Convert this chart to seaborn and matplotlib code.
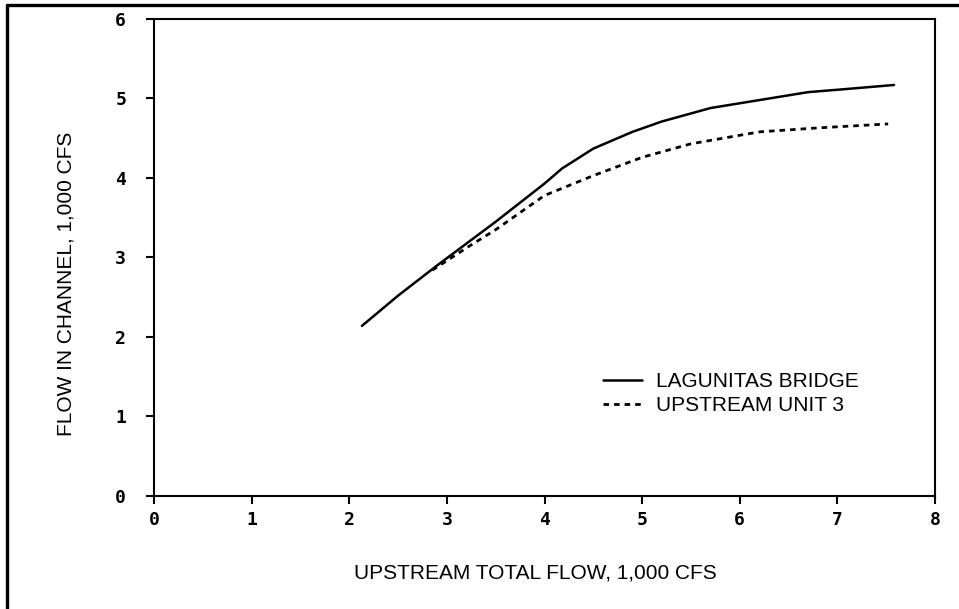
import matplotlib
matplotlib.use('Agg')
import matplotlib.pyplot as plt
from matplotlib.lines import Line2D
import seaborn as sns

# Lagunitas Bridge (solid)
bridge_x = [2.13, 2.5, 2.9, 3.5, 4.0, 4.18, 4.5, 4.9, 5.2, 5.7, 6.2, 6.7, 7.1, 7.58]
bridge_y = [2.14, 2.52, 2.90, 3.45, 3.93, 4.12, 4.37, 4.58, 4.71, 4.88, 4.98, 5.08, 5.12, 5.17]

# Upstream unit 3 (dashed)
unit3_x = [2.85, 3.2, 3.5, 4.0, 4.5, 5.0, 5.5, 6.2, 6.8, 7.52]
unit3_y = [2.84, 3.12, 3.35, 3.78, 4.03, 4.26, 4.43, 4.58, 4.63, 4.68]

x_ticks = [0, 1, 2, 3, 4, 5, 6, 7, 8]
y_ticks = [0, 1, 2, 3, 4, 5, 6]

sns.set_theme(style='ticks')
plt.rcParams['font.family'] = ['Liberation Sans', 'DejaVu Sans']
plt.rcParams['text.color'] = 'black'
plt.rcParams['axes.labelcolor'] = 'black'

fig = plt.figure(figsize=(9.59, 6.09), dpi=100)
ax = fig.add_axes([0.1606, 0.1856, 0.975 - 0.1606, 0.9688 - 0.1856])

sns.lineplot(x=bridge_x, y=bridge_y, ax=ax, color='black', linewidth=1.8,
             label='LAGUNITAS BRIDGE', sort=False)
sns.lineplot(x=unit3_x, y=unit3_y, ax=ax, color='black', linewidth=2.0,
             label='UPSTREAM UNIT 3', sort=False)
ax.lines[1].set_dashes([2.0, 1.8])

ax.set_xlim(0, 8)
ax.set_ylim(0, 6)
ax.set_xticks(x_ticks)
ax.set_yticks(y_ticks)
ax.set_xticklabels([str(t) for t in x_ticks], family='DejaVu Sans Mono', fontweight='bold', fontsize=13)
ax.set_yticklabels([str(t) for t in y_ticks], family='DejaVu Sans Mono', fontweight='bold', fontsize=13)
ax.tick_params(axis='x', direction='out', length=6, width=1.5, pad=5, colors='black')
ax.tick_params(axis='y', direction='out', length=6, width=1.5, pad=14, colors='black')
for side in ['left', 'right', 'top', 'bottom']:
    ax.spines[side].set_visible(True)
    ax.spines[side].set_linewidth(1.5)
    ax.spines[side].set_color('black')

ax.set_xlabel('UPSTREAM TOTAL FLOW, 1,000 CFS', fontsize=15)
ax.set_ylabel('FLOW IN CHANNEL, 1,000 CFS', fontsize=15)
ax.xaxis.set_label_coords(0.4885, -0.1426)
ax.yaxis.set_label_coords(-0.101, 0.445)

leg = ax.legend(loc='upper left', bbox_to_anchor=(0.561, 0.282), frameon=False,
                fontsize=15, handlelength=1.9, handletextpad=0.67,
                labelspacing=0.25, borderpad=0)

# partial frame around the figure (left and top edges)
fig.add_artist(Line2D([0.0078, 0.0078], [0, 0.991], transform=fig.transFigure,
                      color='black', linewidth=2.4))
fig.add_artist(Line2D([0.0078, 1], [0.991, 0.991], transform=fig.transFigure,
                      color='black', linewidth=2.4))

fig.savefig('out.png', dpi=100)
